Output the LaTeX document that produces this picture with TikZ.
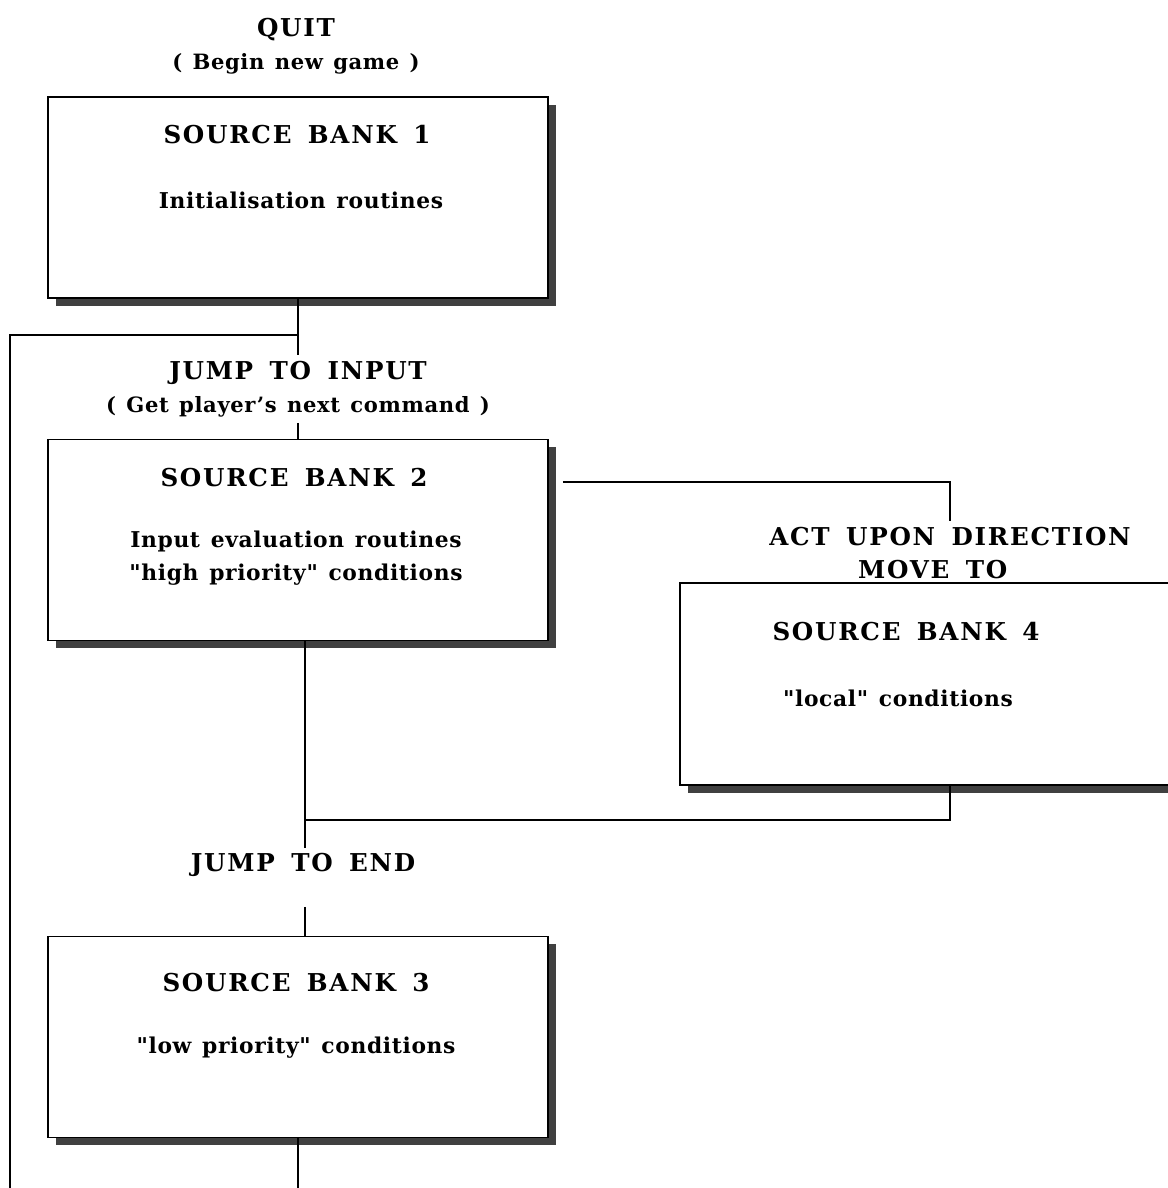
\documentclass[tikz,border=0pt]{standalone}
\usepackage{fontspec}
\setmainfont{DejaVu Serif}
\newfontfamily\headfont[LetterSpace=7, WordSpace=1.6]{DejaVu Serif}
\newfontfamily\bodyfont[LetterSpace=3, WordSpace=1.3]{DejaVu Serif}
\usetikzlibrary{positioning,calc,shadows}

\tikzset{
  bank/.style={draw, line width=1pt, fill=white, minimum width=10cm, minimum height=4.02cm,
    drop shadow={shadow xshift=4.5pt, shadow yshift=-4.5pt, fill=black!75, opacity=1}},
  head/.style={font=\headfont\bfseries\fontsize{14}{19}\selectfont, align=center, inner sep=3pt},
  body/.style={font=\bodyfont\bfseries\fontsize{12.4}{19}\selectfont, align=center, inner sep=2pt},
  wire/.style={line width=1.2pt},
}
\newcommand{\sub}[1]{{\bodyfont\fontsize{12}{19}\selectfont #1}}
\newcommand{\dq}{\symbol{34}}

\begin{document}
\begin{tikzpicture}[x=0.02cm, y=-0.02cm]
  \useasboundingbox (0,0) rectangle (1168,1188);

  % labels between the banks
  \node[head] (quit) at (296,46) {QUIT\\\sub{( Begin new game )}};
  \node[head] (jin) at (298,389) {JUMP TO INPUT\\\sub{( Get player’s next command )}};
  \node[head] (act) at (950,553) {ACT UPON DIRECTION\\MOVE TO\hspace*{1.4em}};
  \node[head] (jend) at (303,865) {JUMP TO END};

  % source banks
  \node[bank] (b1) at (298,197.5) {};
  \node[head] (t1) at (297,135) {SOURCE BANK 1};
  \node[body] (d1) at (301,200) {Initialisation routines};

  \node[bank] (b2) at (298,540) {};
  \node[head] (t2) at (294,478) {SOURCE BANK 2};
  \node[body] (d2) at (296,558) {Input evaluation routines\\\dq high priority\dq{} conditions};

  \node[bank, minimum height=4.04cm] (b4) at (930,684) {};
  \node[head] (t4) at (906,632) {SOURCE BANK 4};
  \node[body] (d4) at (898,698) {\dq local\dq{} conditions};

  \node[bank] (b3) at (298,1037) {};
  \node[head] (t3) at (296,983) {SOURCE BANK 3};
  \node[body] (d3) at (296,1048) {\dq low priority\dq{} conditions};

  % connectors
  \coordinate (fork) at (298,335);
  \coordinate (loop) at (10,1188);
  \coordinate (merge) at (305,820);
  \draw[wire] (b1.south) -- (b1.south |- jin.north);
  \draw[wire] (fork) -| (loop);
  \draw[wire] (b2.north |- jin.south) -- (b2.north);
  \draw[wire] ($(b2.north east)+(14,43)$) -| (act.north);
  \draw[wire] (b4.south -| act.north) |- (merge);
  \draw[wire] (b2.south -| merge) -- (jend.north -| merge);
  \draw[wire, shorten <=14pt] (jend.south -| merge) -- (b3.north -| merge);
  \draw[wire] (b3.south) -- (b3.south |- loop);
\end{tikzpicture}
\end{document}
